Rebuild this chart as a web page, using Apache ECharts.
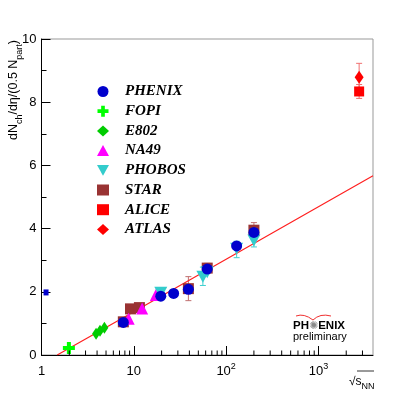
<!DOCTYPE html>
<html>
<head>
<meta charset="utf-8">
<script src="https://cdn.jsdelivr.net/npm/echarts@6/dist/echarts.min.js"></script>
<style>
  html, body { margin: 0; padding: 0; background: #fff; }
  #chart { width: 415px; height: 395px; }
</style>
</head>
<body>
<div id="chart"></div>
<script>
// values: [sqrt(sNN), dNch/deta/(0.5 Npart)]
var phenix = [[7.7, 1.03], [19.6, 1.86], [27, 1.95], [39, 2.08], [62.4, 2.72], [130, 3.45], [200, 3.88]];
var phenixEdge = [[1.12, 1.98]];
var fopi = [[1.98, 0.22]];
var e802 = [[3.9, 0.67], [4.3, 0.77], [4.8, 0.86]];
var na49 = [[8.8, 1.15], [12.3, 1.47], [17.3, 1.9]];
var phobos = [[19.6, 1.97], [56, 2.48], [62.4, 2.62], [130, 3.36], [200, 3.62]];
var star = [[7.7, 1.05], [9.2, 1.46], [11.5, 1.5], [39, 2.1], [62.4, 2.75], [200, 3.95]];
var alice = [[2760, 8.34]];
var atlas = [[2760, 8.79]];

// error bars: [x, low, high]
var starErr = [[39, 1.72, 2.48], [62.4, 2.6, 2.9], [200, 3.72, 4.19]];
var phobosErr = [[56, 2.2, 2.78], [130, 3.08, 3.6], [200, 3.42, 3.84]];
var aliceErr = [[2760, 8.12, 8.56]];
var atlasErr = [[2760, 8.36, 9.23]];

// fit line, read at a few points
var fitLine = [[1.48, 0], [10, 1.37], [100, 3.03], [1000, 4.69], [3900, 5.67]];

var xMin = 1, xMax = 3900;
var majorX = [1, 10, 100, 1000];
var minorX = [2, 3, 4, 5, 6, 7, 8, 9, 20, 30, 40, 50, 60, 70, 80, 90,
  200, 300, 400, 500, 600, 700, 800, 900, 2000, 3000];

var chart = echarts.init(document.getElementById('chart'));

var crossPath = 'path://M4,0H8V4H12V8H8V12H4V8H0V4H4Z';
var downTri = 'path://M0,0L10,0L5,9Z';

function errSeries(data, color) {
  return {
    type: 'custom',
    silent: true,
    z: 1,
    data: data,
    renderItem: function (params, api) {
      var top = api.coord([api.value(0), api.value(2)]);
      var bot = api.coord([api.value(0), api.value(1)]);
      var st = { stroke: color, lineWidth: 1 };
      return {
        type: 'group',
        children: [
          { type: 'line', shape: { x1: top[0], y1: top[1], x2: bot[0], y2: bot[1] }, style: st },
          { type: 'line', shape: { x1: top[0] - 3, y1: top[1], x2: top[0] + 3, y2: top[1] }, style: st },
          { type: 'line', shape: { x1: bot[0] - 3, y1: bot[1], x2: bot[0] + 3, y2: bot[1] }, style: st }
        ]
      };
    }
  };
}

var subRich = {
  s: { fontSize: 9, fontFamily: 'Liberation Sans', verticalAlign: 'bottom', lineHeight: 9 }
};

var option = {
  animation: false,
  backgroundColor: '#fff',
  grid: {
    left: 41.5, right: 42, top: 39, bottom: 40,
    show: true, borderColor: '#999', borderWidth: 1
  },
  legend: {
    data: ['PHENIX', 'FOPI', 'E802', 'NA49', 'PHOBOS', 'STAR', 'ALICE', 'ATLAS'],
    orient: 'vertical',
    left: 92, top: 79,
    itemWidth: 12, itemHeight: 11,
    itemGap: 4.7,
    selectedMode: false,
    textStyle: {
      fontFamily: 'Liberation Serif',
      fontStyle: 'italic',
      fontWeight: 'bold',
      fontSize: 15,
      lineHeight: 14,
      color: '#000',
      padding: [0, 0, 0, 11]
    }
  },
  xAxis: {
    type: 'log',
    logBase: 10,
    min: xMin,
    max: xMax,
    axisLine: { lineStyle: { color: '#000', width: 1 } },
    axisTick: { inside: true, length: 9, lineStyle: { color: '#000' } },
    splitLine: { show: false },
    axisLabel: {
      color: '#000',
      fontFamily: 'Liberation Sans',
      fontSize: 13,
      margin: 7,
      showMaxLabel: false,
      formatter: function (v) {
        if (majorX.indexOf(v) < 0) return '';
        if (v === 1) return '{m|1}';
        if (v === 10) return '{m|10}';
        return '{m|10}{p|' + Math.round(Math.log10(v)) + '}';
      },
      rich: {
        m: { fontSize: 13, fontFamily: 'Liberation Sans', color: '#000', lineHeight: 18, verticalAlign: 'middle' },
        p: { fontSize: 9, fontFamily: 'Liberation Sans', color: '#000', lineHeight: 9, verticalAlign: 'top' }
      }
    }
  },
  yAxis: {
    type: 'value',
    min: 0,
    max: 10,
    interval: 2,
    axisLine: { show: true, lineStyle: { color: '#000', width: 1 } },
    axisTick: { show: true, inside: true, length: 9, lineStyle: { color: '#000' } },
    minorTick: { show: true, splitNumber: 2, length: 5, lineStyle: { color: '#000' } },
    splitLine: { show: false },
    axisLabel: { color: '#000', fontFamily: 'Liberation Sans', fontSize: 13, margin: 5 }
  },
  graphic: [
    {
      type: 'text',
      x: 14, y: 40,
      rotation: Math.PI / 2,
      style: {
        text: 'dN{s|ch}/dη/(0.5 N{s|part})',
        align: 'right',
        verticalAlign: 'middle',
        fontSize: 12.5,
        lineHeight: 20,
        fontFamily: 'Liberation Sans',
        fill: '#000',
        rich: subRich
      }
    },
    {
      type: 'text',
      x: 349, y: 382,
      style: {
        text: '√s{s|NN}',
        verticalAlign: 'middle',
        fontSize: 12,
        lineHeight: 18,
        fontFamily: 'Liberation Sans',
        fill: '#000',
        rich: subRich
      }
    },
    {
      type: 'line',
      shape: { x1: 357, y1: 371, x2: 374, y2: 371 },
      style: { stroke: '#000', lineWidth: 0.8 }
    },
    {
      type: 'text',
      x: 293, y: 326,
      style: {
        text: 'PH{o|✺}ENIX',
        verticalAlign: 'middle',
        fontSize: 11.5,
        fontWeight: 'bold',
        fontFamily: 'Liberation Sans',
        fill: '#000',
        rich: { o: { fontSize: 11, fill: '#888', fontFamily: 'DejaVu Sans' } }
      }
    },
    {
      type: 'text',
      x: 293, y: 337,
      style: {
        text: 'preliminary',
        verticalAlign: 'middle',
        fontSize: 11,
        fontFamily: 'Liberation Sans',
        fill: '#000'
      }
    },
    {
      type: 'bezierCurve',
      shape: { x1: 296, y1: 316, cpx1: 304, cpy1: 313, x2: 313, y2: 320 },
      style: { stroke: '#f03030', lineWidth: 1, fill: null }
    },
    {
      type: 'bezierCurve',
      shape: { x1: 313, y1: 320, cpx1: 320, cpy1: 313, x2: 331, y2: 316 },
      style: { stroke: '#f03030', lineWidth: 1, fill: null }
    }
  ],
  series: [
    {
      type: 'custom',
      silent: true,
      z: 3,
      data: minorX,
      renderItem: function (params, api) {
        var p = api.coord([api.value(0), 0]);
        return {
          type: 'line',
          shape: { x1: p[0], y1: p[1], x2: p[0], y2: p[1] - 4.5 },
          style: { stroke: '#000', lineWidth: 1 }
        };
      }
    },
    {
      name: 'fit',
      type: 'line',
      data: fitLine,
      showSymbol: false,
      smooth: false,
      lineStyle: { color: '#ff2020', width: 1.2 },
      z: 1
    },
    errSeries(starErr, '#c07070'),
    errSeries(phobosErr, '#40d0d0'),
    errSeries(aliceErr, '#f07070'),
    errSeries(atlasErr, '#f07070'),
    {
      name: 'STAR', type: 'scatter', data: star,
      symbol: 'rect', symbolSize: 11,
      itemStyle: { color: '#993333', opacity: 1 }, z: 2
    },
    {
      name: 'NA49', type: 'scatter', data: na49,
      symbol: 'triangle', symbolSize: 12,
      itemStyle: { color: '#ff00ff', opacity: 1 }, z: 2
    },
    {
      name: 'PHOBOS', type: 'scatter', data: phobos,
      symbol: downTri, symbolSize: [13, 12],
      itemStyle: { color: '#33cccc', opacity: 1 }, z: 2
    },
    {
      name: 'E802', type: 'scatter', data: e802,
      symbol: 'diamond', symbolSize: [8, 12],
      itemStyle: { color: '#00cc00', opacity: 1 }, z: 2
    },
    {
      name: 'FOPI', type: 'scatter', data: fopi,
      symbol: crossPath, symbolSize: 12,
      itemStyle: { color: '#00ff00', opacity: 1 }, z: 2
    },
    {
      name: 'PHENIX', type: 'scatter', data: phenix,
      symbol: 'circle', symbolSize: 11,
      itemStyle: { color: '#0000cc', opacity: 1 }, z: 2
    },
    {
      name: 'PHENIX edge', type: 'scatter', data: phenixEdge,
      symbol: 'rect', symbolSize: [5, 6],
      itemStyle: { color: '#0000cc', opacity: 1 }, z: 2
    },
    {
      name: 'ALICE', type: 'scatter', data: alice,
      symbol: 'rect', symbolSize: 10,
      itemStyle: { color: '#ff0000', opacity: 1 }, z: 2
    },
    {
      name: 'ATLAS', type: 'scatter', data: atlas,
      symbol: 'diamond', symbolSize: [9, 13],
      itemStyle: { color: '#ff0000', opacity: 1 }, z: 2
    }
  ]
};

chart.setOption(option);
</script>
</body>
</html>
